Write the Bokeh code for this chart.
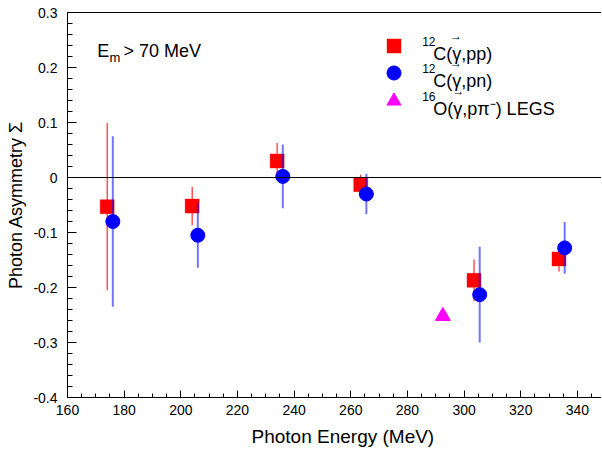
from bokeh.plotting import figure
from bokeh.models import (Range1d, FixedTicker, LinearAxis, Span, Label, Legend,
                          LegendItem, ColumnDataSource, Title)
from bokeh.embed import file_html
from bokeh.resources import INLINE

# ---------------- data ----------------
pp_energy = [174.0, 204.0, 234.0, 263.5, 303.5, 333.5]
pp_sigma = [-0.053, -0.052, 0.030, -0.013, -0.187, -0.148]
pp_err = [0.152, 0.035, 0.033, 0.018, 0.038, 0.023]

pn_energy = [176.0, 206.0, 236.0, 265.5, 305.5, 335.5]
pn_sigma = [-0.080, -0.105, 0.002, -0.030, -0.213, -0.128]
pn_err = [0.155, 0.059, 0.058, 0.037, 0.087, 0.047]

legs_energy = [292.5]
legs_sigma = [-0.252]

x_major = [160, 180, 200, 220, 240, 260, 280, 300, 320, 340]
x_minor = [160 + 5 * i for i in range(38)]
y_major = [-0.4, -0.3, -0.2, -0.1, 0, 0.1, 0.2, 0.3]
y_labels = ["-0.4", "-0.3", "-0.2", "-0.1", "0", "0.1", "0.2", "0.3"]
y_minor = [round(-0.4 + 0.02 * i, 2) for i in range(36)]

FONT = "Liberation Sans"

pp_src = ColumnDataSource(dict(
    x=pp_energy, y=pp_sigma,
    lo=[s - e for s, e in zip(pp_sigma, pp_err)],
    hi=[s + e for s, e in zip(pp_sigma, pp_err)]))
pn_src = ColumnDataSource(dict(
    x=pn_energy, y=pn_sigma,
    lo=[s - e for s, e in zip(pn_sigma, pn_err)],
    hi=[s + e for s, e in zip(pn_sigma, pn_err)]))
legs_src = ColumnDataSource(dict(x=legs_energy, y=legs_sigma))

p = figure(width=601, height=456, output_backend="svg", toolbar_location=None,
           x_range=Range1d(160, 348.5), y_range=Range1d(-0.4, 0.3),
           min_border_left=67, min_border_right=0, min_border_top=12,
           min_border_bottom=59,
           y_axis_label="Photon Asymmetry \u03a3")
p.outline_line_color = None
p.grid.visible = False
p.background_fill_color = "white"
p.border_fill_color = "white"

# axes
xa = p.xaxis[0]
xa.ticker = FixedTicker(ticks=x_major, minor_ticks=x_minor)
ya = p.yaxis[0]
ya.ticker = FixedTicker(ticks=y_major, minor_ticks=y_minor)
ya.major_label_overrides = {v: t for v, t in zip(y_major, y_labels)}
for ax in (xa, ya):
    ax.axis_line_color = "black"
    ax.axis_line_width = 1
    ax.major_tick_line_color = "black"
    ax.minor_tick_line_color = "black"
    ax.major_tick_out = 0
    ax.minor_tick_out = 0
    ax.major_label_text_font = FONT
    ax.major_label_text_font_size = "14px"
    ax.major_label_text_color = "black"
    ax.axis_label_text_font = FONT
    ax.axis_label_text_font_style = "normal"
    ax.axis_label_text_color = "black"
ya.axis_label_text_font_size = "18px"
xa.major_tick_in = 7
xa.minor_tick_in = 4
ya.major_tick_in = 9
ya.minor_tick_in = 5
xa.major_label_standoff = 7
ya.major_label_standoff = 10
ya.axis_label_standoff = 4

top = LinearAxis(ticker=FixedTicker(ticks=[]), major_tick_in=0, major_tick_out=0,
                 minor_tick_in=0, minor_tick_out=0, axis_line_color="black",
                 major_label_text_font_size="0px")
p.add_layout(top, "above")

# x axis title, set right of the frame centre as in the reference
p.add_layout(Title(text="Photon Energy (MeV)", align="left", offset=184,
                   text_font=FONT, text_font_size="19px", text_font_style="normal",
                   text_color="black", standoff=12), "below")

p.add_layout(Span(location=0, dimension="width", line_color="black", line_width=1))

# data marks
p.segment(x0="x", y0="lo", x1="x", y1="hi", source=pp_src, line_color="red", line_width=1)
r_pp = p.scatter(x="x", y="y", source=pp_src, marker="square", size=14,
                 fill_color="red", line_color="red", line_alpha=0.4)
p.segment(x0="x", y0="lo", x1="x", y1="hi", source=pn_src, line_color="blue",
          line_width=2, line_alpha=0.55)
r_pn = p.scatter(x="x", y="y", source=pn_src, marker="circle", size=14,
                 fill_color="blue", line_color="blue")
r_legs = p.scatter(x="x", y="y", source=legs_src, marker="triangle", size=15,
                   fill_color="magenta", line_color="magenta")

# legend glyphs (one legend box per entry; texts as labels)
for rend, ly in ((r_pp, 334), (r_pn, 307), (r_legs, 279)):
    p.add_layout(Legend(items=[LegendItem(label=" ", renderers=[rend])],
                        location=(308.5, ly), glyph_width=35, glyph_height=35,
                        padding=0, margin=0, label_width=0, label_standoff=0,
                        label_text_font_size="8px", border_line_color=None,
                        background_fill_alpha=0), "center")

def lab(x, y, text, size, baseline="alphabetic", align="left"):
    p.add_layout(Label(x=x, y=y, x_units="screen", y_units="screen", text=text,
                       text_font=FONT, text_font_size=size, text_color="black",
                       text_baseline=baseline, text_align=align))

# Em > 70 MeV
lab(29.7, 346.3, "E", "18px")
lab(42.0, 340.3, "m", "13px")
lab(56.0, 346.3, "> 70 MeV", "18px")

# legend texts
rows = [(0.0, "12", "C(\u03b3,pp)", 388.5),
        (27.3, "12", "C(\u03b3,pn)", 388.5),
        (55.0, "16", "O(\u03b3,p\u03c0\u207b) LEGS", 391.0)]
for dy, sup, main, ax_ in rows:
    lab(354.7, 356.3 - dy, sup, "12px")
    lab(365.7, 343.7 - dy, main, "18px")
    lab(ax_, 362.0 - dy, "\u2192", "12px", baseline="middle", align="center")

open("out.html", "w").write(file_html(p, INLINE))
